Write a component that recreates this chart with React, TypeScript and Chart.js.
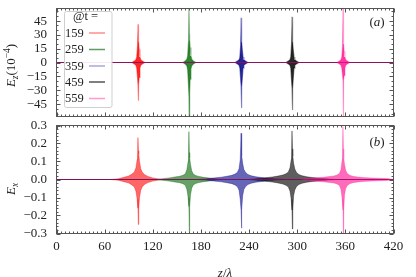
import React, { useEffect, useRef } from 'react';
import { Chart, registerables } from 'chart.js';

Chart.register(...registerables);

// ---------------- data ----------------
const tLabels = ['159', '259', '359', '459', '559'];
const pulseCentersZ = [102, 165.5, 230.5, 294, 357.5];

const xTickValues = [0, 60, 120, 180, 240, 300, 360, 420];
const xTickLabels = ['0', '60', '120', '180', '240', '300', '360', '420'];
const ezTickValues = [45, 30, 15, 0, -15, -30, -45];
const ezTickLabels = ['45', '30', '15', '0', '−15', '−30', '−45'];
const exTickValues = [0.3, 0.2, 0.1, 0, -0.1, -0.2, -0.3];
const exTickLabels = ['0.3', '0.2', '0.1', '0.0', '−0.1', '−0.2', '−0.3'];

// Ez (10^-4) envelope of each pulse, offsets in z relative to its centre
const ezOffsets = [-8, -5, -3, -2, -1, -0.4, 0, 0.4, 1, 2, 3, 5, 8];
const ezUpper = [
  [0, 1.5, 3, 6, 18, 41, 26, 22, 14, 6, 3, 1.5, 0],
  [0, 1.5, 3.5, 7, 22, 58, 30, 24, 16, 7, 3.5, 1.5, 0],
  [0, 1.5, 3, 6, 18, 48, 28, 22, 14, 6, 3, 1.5, 0],
  [0, 1.5, 3, 6, 20, 49, 28, 22, 14, 6, 3, 1.5, 0],
  [0, 1.5, 3, 6, 18, 66, 24, 20, 12, 6, 3, 1.5, 0],
];
const ezLower = [
  [0, -1.5, -3, -6, -16, -24, -41, -24, -16, -6, -3, -1.5, 0],
  [0, -1.5, -3.5, -8, -24, -36, -66, -32, -18, -7, -3.5, -1.5, 0],
  [0, -1.5, -3, -6, -18, -26, -49, -26, -18, -6, -3, -1.5, 0],
  [0, -1.5, -3, -6, -20, -28, -51, -28, -18, -6, -3, -1.5, 0],
  [0, -1.5, -3, -6, -14, -20, -66, -20, -14, -6, -3, -1.5, 0],
];

// Ex envelope of each pulse
const exOffsets = [-55, -45, -35, -25, -18, -12, -8, -5, -3, -1.5, -0.5, 0, 0.5, 1.5, 3, 5, 8, 12, 18, 25, 35, 45, 55];
const exUpper = [
  [0, 0, 0, 0.004, 0.012, 0.02, 0.03, 0.042, 0.065, 0.11, 0.233, 0.16, 0.14, 0.1, 0.06, 0.04, 0.026, 0.017, 0.009, 0.003, 0, 0, 0],
  [0, 0, 0.003, 0.009, 0.014, 0.018, 0.023, 0.032, 0.055, 0.1, 0.266, 0.15, 0.12, 0.085, 0.048, 0.03, 0.022, 0.017, 0.012, 0.008, 0.002, 0, 0],
  [0, 0.003, 0.008, 0.013, 0.018, 0.023, 0.03, 0.04, 0.06, 0.11, 0.257, 0.17, 0.13, 0.09, 0.056, 0.04, 0.028, 0.021, 0.015, 0.011, 0.006, 0.002, 0],
  [0, 0.004, 0.009, 0.014, 0.019, 0.025, 0.032, 0.042, 0.065, 0.11, 0.27, 0.17, 0.13, 0.09, 0.058, 0.04, 0.028, 0.021, 0.015, 0.011, 0.007, 0.003, 0],
  [0, 0.004, 0.009, 0.013, 0.016, 0.02, 0.025, 0.034, 0.055, 0.11, 0.294, 0.17, 0.12, 0.085, 0.05, 0.033, 0.024, 0.018, 0.014, 0.011, 0.009, 0.007, 0.005],
];
const exLower = [
  [0, 0, 0, -0.004, -0.012, -0.02, -0.03, -0.042, -0.065, -0.11, -0.16, -0.25, -0.16, -0.1, -0.06, -0.04, -0.026, -0.017, -0.009, -0.003, 0, 0, 0],
  [0, 0, -0.003, -0.009, -0.014, -0.018, -0.023, -0.032, -0.055, -0.1, -0.15, -0.289, -0.15, -0.085, -0.048, -0.03, -0.022, -0.017, -0.012, -0.008, -0.002, 0, 0],
  [0, -0.003, -0.008, -0.013, -0.018, -0.023, -0.03, -0.04, -0.06, -0.11, -0.17, -0.27, -0.17, -0.09, -0.056, -0.04, -0.028, -0.021, -0.015, -0.011, -0.006, -0.002, 0],
  [0, -0.004, -0.009, -0.014, -0.019, -0.025, -0.032, -0.042, -0.065, -0.11, -0.17, -0.275, -0.17, -0.09, -0.058, -0.04, -0.028, -0.021, -0.015, -0.011, -0.007, -0.003, 0],
  [0, -0.004, -0.009, -0.013, -0.016, -0.02, -0.025, -0.034, -0.055, -0.11, -0.17, -0.298, -0.17, -0.085, -0.05, -0.033, -0.024, -0.018, -0.014, -0.011, -0.009, -0.007, -0.005],
];

// ---------------- styles ----------------
const FONT = '"Liberation Serif", "DejaVu Serif", serif';
const TEXT_COLOR = '#222';
const FRAME_COLOR = '#555';
const lineColors = ['rgba(255,0,0,0.45)', 'rgba(0,100,0,0.45)', 'rgba(0,0,139,0.45)', 'rgba(0,0,0,0.45)', 'rgba(255,20,147,0.33)'];
const ezFill = ['rgba(255,0,0,0.85)', 'rgba(10,110,10,0.85)', 'rgba(0,0,128,0.85)', 'rgba(0,0,0,0.85)', 'rgba(255,20,147,0.85)'];
const exFill = ['rgba(255,0,0,0.6)', 'rgba(0,100,0,0.6)', 'rgba(0,0,139,0.6)', 'rgba(0,0,0,0.63)', 'rgba(255,20,147,0.63)'];
const legendLineColors = ['#ff8c8c', '#5f9c5f', '#a9a9d4', '#555555', '#ff9ccb'];

type Part = { t: string; i?: boolean; s?: 'sub' | 'sup' };

function drawRich(ctx: CanvasRenderingContext2D, parts: Part[], x: number, y: number, size: number, align: 'center' | 'left' | 'right') {
  const fonts = parts.map((p) => `${p.i ? 'italic ' : ''}${p.s ? size * 0.72 : size}px ${FONT}`);
  let total = 0;
  const widths = parts.map((p, k) => {
    ctx.font = fonts[k];
    const w = ctx.measureText(p.t).width;
    total += w;
    return w;
  });
  let cx = align === 'center' ? x - total / 2 : align === 'right' ? x - total : x;
  ctx.textAlign = 'left';
  ctx.textBaseline = 'alphabetic';
  parts.forEach((p, k) => {
    ctx.font = fonts[k];
    const dy = p.s === 'sub' ? size * 0.25 : p.s === 'sup' ? -size * 0.42 : 0;
    ctx.fillText(p.t, cx, y + dy);
    cx += widths[k];
  });
}

function buildDatasets(offsets: number[], upper: number[][], lower: number[][], fills: string[], bw: number) {
  const ds: any[] = [];
  tLabels.forEach((lab, i) => {
    const c = pulseCentersZ[i];
    const up = [{ x: 0, y: 0 }, ...offsets.map((o, j) => ({ x: c + o, y: upper[i][j] })), { x: 420, y: 0 }];
    const lo = [{ x: 0, y: 0 }, ...offsets.map((o, j) => ({ x: c + o, y: lower[i][j] })), { x: 420, y: 0 }];
    // later series drawn on top (lower order = drawn later)
    ds.push({ label: lab, data: up, order: 20 - 2 * i, borderColor: lineColors[i], borderWidth: bw, pointRadius: 0, fill: false, tension: 0 });
    ds.push({ label: lab + ' ', data: lo, order: 19 - 2 * i, borderColor: lineColors[i], borderWidth: bw, pointRadius: 0, fill: '-1', backgroundColor: fills[i], tension: 0 });
  });
  return ds;
}

interface FrameCfg {
  xMinorStep: number;
  yMinorStep: number;
  yTicks: number[];
  yLabels: string[];
  yTitle: Part[];
  yTitleY: number;
  panel: string;
  panelY: number;
  showX: boolean;
  legend: boolean;
}

function makeFramePlugin(cfg: FrameCfg) {
  return {
    id: 'frameTicks',
    afterDatasetsDraw(chart: any) {
      const { ctx, chartArea: a, scales } = chart;
      const xs = scales.x;
      const ys = scales.y;
      ctx.save();
      ctx.strokeStyle = FRAME_COLOR;
      ctx.lineWidth = 1;
      ctx.beginPath();
      for (let v = xs.min; v <= xs.max + 1e-9; v += cfg.xMinorStep) {
        const major = xTickValues.some((t) => Math.abs(t - v) < 1e-6);
        const len = major ? 4 : 2;
        const px = Math.round(xs.getPixelForValue(v)) + 0.5;
        ctx.moveTo(px, a.bottom);
        ctx.lineTo(px, a.bottom - len);
        ctx.moveTo(px, a.top);
        ctx.lineTo(px, a.top + len);
      }
      const y0 = Math.ceil(ys.min / cfg.yMinorStep - 1e-9) * cfg.yMinorStep;
      for (let k = 0; y0 + k * cfg.yMinorStep <= ys.max + 1e-9; k++) {
        const v = y0 + k * cfg.yMinorStep;
        const major = cfg.yTicks.some((t) => Math.abs(t - v) < 1e-6);
        const len = major ? 4 : 2;
        const py = Math.round(ys.getPixelForValue(v)) + 0.5;
        ctx.moveTo(a.left, py);
        ctx.lineTo(a.left + len, py);
        ctx.moveTo(a.right, py);
        ctx.lineTo(a.right - len, py);
      }
      ctx.stroke();
      ctx.strokeRect(a.left, a.top, a.right - a.left, a.bottom - a.top);

      ctx.fillStyle = TEXT_COLOR;
      ctx.font = `13px ${FONT}`;
      ctx.textAlign = 'right';
      ctx.textBaseline = 'middle';
      cfg.yTicks.forEach((v, k) => {
        ctx.fillText(cfg.yLabels[k], a.left - 9.5, ys.getPixelForValue(v) + 0.5);
      });

      if (cfg.showX) {
        ctx.textAlign = 'center';
        ctx.textBaseline = 'middle';
        ctx.font = `13px ${FONT}`;
        xTickValues.forEach((v, k) => {
          ctx.fillText(xTickLabels[k], xs.getPixelForValue(v), a.bottom + 13.5);
        });
        drawRich(ctx, [{ t: 'z', i: true }, { t: '/' }, { t: 'λ', i: true }], (a.left + a.right) / 2, a.bottom + 43, 13, 'center');
      }

      ctx.save();
      ctx.translate(10.5, cfg.yTitleY);
      ctx.rotate(-Math.PI / 2);
      drawRich(ctx, cfg.yTitle, 0, 4.5, 13, 'center');
      ctx.restore();

      drawRich(ctx, [{ t: '(' }, { t: cfg.panel, i: true }, { t: ')' }], 377, cfg.panelY + 4.5, 13, 'center');

      if (cfg.legend) {
        const bx = 64.5, by = 11.5, bwid = 47.5, bh = 96;
        ctx.fillStyle = 'rgba(255,255,255,0.92)';
        ctx.strokeStyle = '#cfcfcf';
        ctx.lineWidth = 1;
        ctx.beginPath();
        if ((ctx as any).roundRect) (ctx as any).roundRect(bx, by, bwid, bh, 2);
        else ctx.rect(bx, by, bwid, bh);
        ctx.fill();
        ctx.stroke();
        ctx.fillStyle = TEXT_COLOR;
        ctx.font = `12.5px ${FONT}`;
        ctx.textAlign = 'center';
        ctx.textBaseline = 'middle';
        ctx.fillText('@t =', 85.5, 17);
        const rows = [33, 49.5, 66, 82, 98.5];
        tLabels.forEach((lab, i) => {
          ctx.fillStyle = TEXT_COLOR;
          ctx.textAlign = 'left';
          ctx.fillText(lab, 65, rows[i] + 0.5);
          ctx.strokeStyle = legendLineColors[i];
          ctx.lineWidth = 1.5;
          ctx.beginPath();
          ctx.moveTo(89, rows[i]);
          ctx.lineTo(105, rows[i]);
          ctx.stroke();
        });
      }
      ctx.restore();
    },
  };
}

export default function App() {
  const topRef = useRef<HTMLCanvasElement>(null);
  const botRef = useRef<HTMLCanvasElement>(null);

  useEffect(() => {
    const common = (ymin: number, ymax: number) => ({
      animation: false as const,
      responsive: false,
      maintainAspectRatio: false,
      events: [] as any[],
      plugins: { legend: { display: false }, tooltip: { enabled: false } },
      scales: {
        x: { type: 'linear' as const, min: 0, max: 420, display: false },
        y: { type: 'linear' as const, min: ymin, max: ymax, display: false },
      },
    });

    const top = new Chart(topRef.current!, {
      type: 'line',
      data: { datasets: buildDatasets(ezOffsets, ezUpper, ezLower, ezFill, 1.2) },
      options: {
        ...common(-58, 58),
        layout: { padding: { left: 56.5, right: 22.5, top: 8.5, bottom: 4.5 } },
      } as any,
      plugins: [
        makeFramePlugin({
          xMinorStep: 5,
          yMinorStep: 5,
          yTicks: ezTickValues,
          yLabels: ezTickLabels,
          yTitle: [{ t: 'E', i: true }, { t: 'z', i: true, s: 'sub' }, { t: '(10' }, { t: '−4', s: 'sup' }, { t: ')' }],
          yTitleY: 65.5,
          panel: 'a',
          panelY: 21,
          showX: false,
          legend: true,
        }),
      ],
    });

    const bot = new Chart(botRef.current!, {
      type: 'line',
      data: { datasets: buildDatasets(exOffsets, exUpper, exLower, exFill, 0.8) },
      options: {
        ...common(-0.3, 0.3),
        layout: { padding: { left: 56.5, right: 22.5, top: 4.5, bottom: 43.5 } },
      } as any,
      plugins: [
        makeFramePlugin({
          xMinorStep: 5,
          yMinorStep: 0.02,
          yTicks: exTickValues,
          yLabels: exTickLabels,
          yTitle: [{ t: 'E', i: true }, { t: 'x', i: true, s: 'sub' }],
          yTitleY: 68,
          panel: 'b',
          panelY: 20,
          showX: true,
          legend: false,
        }),
      ],
    });

    return () => {
      top.destroy();
      bot.destroy();
    };
  }, []);

  return (
    <div style={{ position: 'fixed', left: 0, top: 0, width: 416, height: 277, background: '#fff' }}>
      <canvas ref={topRef} width={416} height={121} style={{ position: 'absolute', left: 0, top: 0, display: 'block' }} />
      <canvas ref={botRef} width={416} height={156} style={{ position: 'absolute', left: 0, top: 121, display: 'block' }} />
    </div>
  );
}
